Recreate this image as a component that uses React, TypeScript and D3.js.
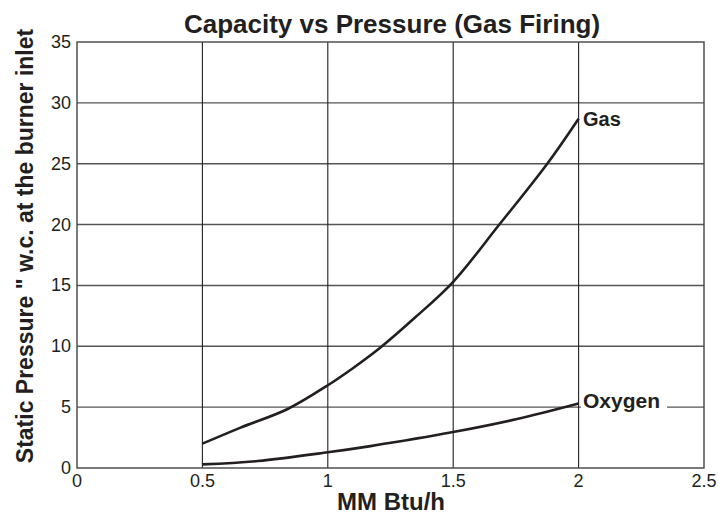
import React from "react";
import * as d3 from "d3";

const gasX = [0.5, 0.65, 0.84, 1.0, 1.1, 1.21, 1.35, 1.5, 1.68, 1.875, 2.0];
const gasY = [2.0, 3.3, 4.85, 6.8, 8.2, 9.9, 12.4, 15.3, 19.9, 25.0, 28.7];
const oxyX = [0.5, 0.72, 1.0, 1.17, 1.5, 1.75, 2.0];
const oxyY = [0.3, 0.57, 1.29, 1.8, 2.95, 4.0, 5.3];
const xTicks = [0, 0.5, 1, 1.5, 2, 2.5];
const yTicks = [0, 5, 10, 15, 20, 25, 30, 35];
const title = "Capacity vs Pressure (Gas Firing)";
const xTitle = "MM Btu/h";
const yTitle = "Static Pressure \" w.c. at the burner inlet";

const W = 719, H = 520;
const L = 77, R = 704, T = 42, B = 468;

export default function App() {
  const x = d3.scaleLinear().domain([0, 2.5]).range([L, R]);
  const y = d3.scaleLinear().domain([0, 35]).range([B, T]);
  const line = d3.line<[number, number]>().x(d => x(d[0])).y(d => y(d[1])).curve(d3.curveCatmullRom.alpha(0.5));
  const gas = line(gasX.map((v, i) => [v, gasY[i]]) as [number, number][]) || "";
  const oxy = line(oxyX.map((v, i) => [v, oxyY[i]]) as [number, number][]) || "";
  const font = "'Liberation Sans', Arial, sans-serif";
  return (
    <svg width={W} height={H} style={{ position: "absolute", left: 0, top: 0, background: "#fff" }} fontFamily={font}>
      <rect x={0} y={0} width={W} height={H} fill="#fff" />
      {yTicks.filter(t => t > 0 && t < 35).map(t => (
        <line key={"h" + t} x1={L} x2={R} y1={y(t)} y2={y(t)} stroke="#555" strokeWidth={1.4} />
      ))}
      {xTicks.filter(t => t > 0 && t < 2.5).map(t => (
        <line key={"v" + t} x1={x(t)} x2={x(t)} y1={T} y2={B} stroke="#231f20" strokeWidth={1.1} />
      ))}
      <rect x={L} y={T} width={R - L} height={B - T} fill="none" stroke="#444" strokeWidth={1.4} />
      <path d={gas} fill="none" stroke="#231f20" strokeWidth={2.6} />
      <path d={oxy} fill="none" stroke="#231f20" strokeWidth={2.6} />
      <rect x={581} y={392} width={86} height={20} fill="#fff" />
      <text x={583} y={126} fontSize={20} fontWeight="bold" fill="#231f20">Gas</text>
      <text x={583} y={408} fontSize={21} fontWeight="bold" fill="#231f20">Oxygen</text>
      {yTicks.map(t => (
        <text key={"yl" + t} x={L - 6} y={y(t) + 6} fontSize={18} textAnchor="end" fill="#231f20">{t}</text>
      ))}
      {xTicks.map(t => (
        <text key={"xl" + t} x={x(t)} y={487} fontSize={18} textAnchor="middle" fill="#231f20">{t}</text>
      ))}
      <text x={392} y={33} fontSize={26} fontWeight="bold" textAnchor="middle" fill="#231f20">{title}</text>
      <text x={391} y={510} fontSize={24} fontWeight="bold" textAnchor="middle" fill="#231f20">{xTitle}</text>
      <text transform={`translate(33,246) rotate(-90)`} fontSize={23} fontWeight="bold" textAnchor="middle" fill="#231f20">{yTitle}</text>
    </svg>
  );
}
